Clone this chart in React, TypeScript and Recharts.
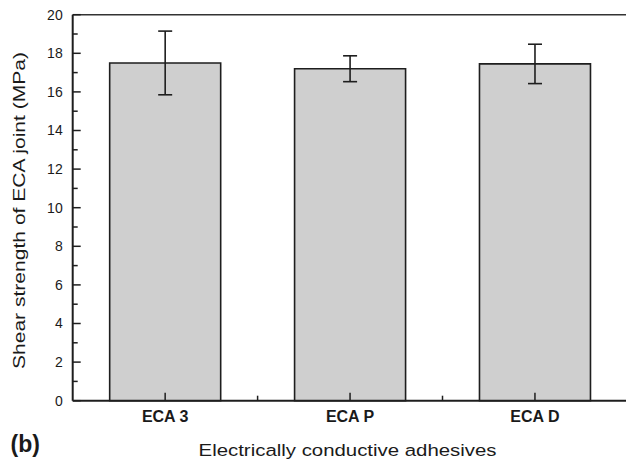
import React from 'react';
import { BarChart, Bar, XAxis, YAxis, ErrorBar, Label, ReferenceLine } from 'recharts';

const categories = ['ECA 3', 'ECA P', 'ECA D'];
const strength = [17.5, 17.2, 17.45];
const errors = [1.65, 0.67, 1.02];
const yTicks = [0, 1, 2, 3, 4, 5, 6, 7, 8, 9, 10, 11, 12, 13, 14, 15, 16, 17, 18, 19, 20];

const yTitle = 'Shear strength of ECA joint (MPa)';
const xTitle = 'Electrically conductive adhesives';
const panel = '(b)';

const data = categories.map((name, i) => ({ name, value: strength[i], err: errors[i] }));

const FONT = '"Liberation Sans", Arial, Helvetica, sans-serif';
const INK = '#1e1e1e';
const TEXT = '#1a1a1a';

const W = 640;
const H = 459;
const Y_MARGIN = 10;
const X_MARGIN = 10;

const YTick = (props: any) => {
  const { x, y, payload } = props;
  const axisX = x + Y_MARGIN;
  const v = payload.value;
  const major = v % 2 === 0;
  return (
    <g>
      <line x1={axisX} x2={axisX + (major ? 8 : 5)} y1={y} y2={y} stroke={INK} strokeWidth={1.5} />
      {major && (
        <text x={x} y={y} dy="0.355em" textAnchor="end" fontFamily={FONT} fontSize={14} fill={TEXT}>
          {v}
        </text>
      )}
    </g>
  );
};

const XTick = (props: any) => {
  const { x, y, payload, index } = props;
  const axisY = y - X_MARGIN;
  const off = payload && typeof payload.offset === 'number' ? payload.offset : 0;
  const last = index === categories.length - 1;
  return (
    <g>
      <line x1={x} x2={x} y1={axisY} y2={axisY - 8} stroke={INK} strokeWidth={1.5} />
      {!last && off > 0 && (
        <line x1={x + off} x2={x + off} y1={axisY} y2={axisY - 5} stroke={INK} strokeWidth={1.5} />
      )}
      <text x={x} y={y} dy="0.71em" textAnchor="middle" fontFamily={FONT} fontSize={16} fontWeight="bold" fill={TEXT}>
        {payload.value}
      </text>
    </g>
  );
};

export default function App() {
  return (
    <div style={{ position: 'absolute', left: 0, top: 0, width: 626, height: 459, overflow: 'hidden', background: '#fff' }}>
      <BarChart
        width={W}
        height={H}
        data={data}
        margin={{ top: 14.7, right: 12.6, bottom: 28.3, left: 12.7 }}
        barCategoryGap="20%"
      >
        <XAxis
          xAxisId="cat"
          dataKey="name"
          height={30}
          tickSize={0}
          tickMargin={X_MARGIN}
          interval={0}
          axisLine={{ stroke: INK, strokeWidth: 2 }}
          tickLine={false}
          tick={<XTick />}
        >
          <Label
            content={(props: any) => {
              const vb = props.viewBox || {};
              const cx = (vb.x ?? 72.7) + (vb.width ?? 554.7) / 2 - 2.5;
              return (
                <g>
                  <text
                    transform={`translate(${cx},455.8) scale(1.2,1)`}
                    textAnchor="middle"
                    fontFamily={FONT}
                    fontSize={17}
                    fill={TEXT}
                  >
                    {xTitle}
                  </text>
                  <text x={10.5} y={452} fontFamily={FONT} fontSize={23} fontWeight="bold" fill={TEXT}>
                    {panel}
                  </text>
                </g>
              );
            }}
          />
        </XAxis>
        <YAxis
          yAxisId="main"
          domain={[0, 20]}
          ticks={yTicks}
          width={60}
          tickSize={0}
          tickMargin={Y_MARGIN}
          interval={0}
          axisLine={{ stroke: INK, strokeWidth: 2 }}
          tickLine={false}
          tick={<YTick />}
        >
          <Label
            content={(props: any) => {
              const vb = props.viewBox || {};
              const cy = (vb.y ?? 14.7) + (vb.height ?? 386) / 2 + 2.8;
              return (
                <text
                  transform={`translate(25.2,${cy}) rotate(-90) scale(1.24,1)`}
                  textAnchor="middle"
                  fontFamily={FONT}
                  fontSize={17}
                  fill={TEXT}
                >
                  {yTitle}
                </text>
              );
            }}
          />
        </YAxis>
        <ReferenceLine xAxisId="cat" yAxisId="main" y={20} stroke="#333" strokeWidth={1.6} />
        <Bar
          xAxisId="cat"
          yAxisId="main"
          dataKey="value"
          fill="#cfcfcf"
          stroke={INK}
          strokeWidth={1.6}
          isAnimationActive={false}
        >
          <ErrorBar dataKey="err" width={7} stroke={INK} strokeWidth={1.6} isAnimationActive={false} />
        </Bar>
      </BarChart>
    </div>
  );
}
